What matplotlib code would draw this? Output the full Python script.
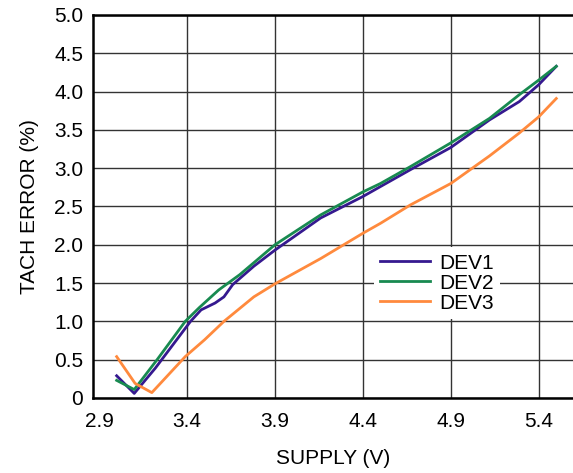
import matplotlib
matplotlib.use("Agg")
import matplotlib.pyplot as plt

# supply voltage (V) vs tach error (%) for three devices
dev1_v = [3.0, 3.1, 3.22, 3.42, 3.48, 3.56, 3.61, 3.66, 3.78, 3.9, 4.16, 4.4, 4.5, 4.67, 4.9, 5.12, 5.29, 5.4, 5.5]
dev1_err = [0.29, 0.06, 0.39, 1.0, 1.15, 1.24, 1.32, 1.48, 1.72, 1.93, 2.35, 2.63, 2.76, 2.98, 3.27, 3.63, 3.87, 4.09, 4.33]

dev2_v = [3.0, 3.1, 3.23, 3.39, 3.47, 3.58, 3.70, 3.9, 4.16, 4.4, 4.5, 4.67, 4.9, 5.12, 5.29, 5.4, 5.5]
dev2_err = [0.23, 0.11, 0.50, 1.0, 1.18, 1.41, 1.61, 2.0, 2.39, 2.69, 2.80, 3.02, 3.33, 3.65, 3.96, 4.15, 4.33]

dev3_v = [3.0, 3.105, 3.2, 3.39, 3.5, 3.61, 3.78, 3.9, 4.16, 4.4, 4.5, 4.67, 4.9, 5.12, 5.29, 5.4, 5.5]
dev3_err = [0.54, 0.19, 0.07, 0.54, 0.76, 1.0, 1.32, 1.49, 1.82, 2.15, 2.28, 2.52, 2.80, 3.16, 3.46, 3.67, 3.91]

series_names = ["DEV1", "DEV2", "DEV3"]
x_ticks = [2.9, 3.4, 3.9, 4.4, 4.9, 5.4]
y_ticks = [0, 0.5, 1.0, 1.5, 2.0, 2.5, 3.0, 3.5, 4.0, 4.5, 5.0]
y_tick_labels = ["0", "0.5", "1.0", "1.5", "2.0", "2.5", "3.0", "3.5", "4.0", "4.5", "5.0"]

colors = ["#35198f", "#188a50", "#ff8a3d"]

plt.rcParams["font.family"] = ["Liberation Sans", "DejaVu Sans"]

fig = plt.figure(figsize=(5.73, 4.73), dpi=100)
ax = fig.add_axes([0.1623, 0.1586, 0.8377, 0.8097])

for v, err, name, c in zip([dev1_v, dev2_v, dev3_v], [dev1_err, dev2_err, dev3_err], series_names, colors):
    ax.plot(v, err, color=c, lw=2.0, label=name, zorder=3)

ax.set_xlim(2.8655, 5.595)
ax.set_ylim(0, 5.0)
ax.set_xticks(x_ticks)
ax.set_xticklabels([f"{t:.1f}" for t in x_ticks])
ax.set_yticks(y_ticks)
ax.set_yticklabels(y_tick_labels)
ax.tick_params(axis="both", length=0, labelsize=15)
ax.tick_params(axis="x", pad=10)
ax.tick_params(axis="y", pad=7)

ax.grid(True, color="#333333", lw=1.0)
ax.get_xgridlines()[0].set_visible(False)
ax.set_axisbelow(True)

for side in ["left", "bottom", "top"]:
    ax.spines[side].set_linewidth(1.8)
    ax.spines[side].set_color("black")
ax.spines["right"].set_visible(False)

ax.set_xlabel("SUPPLY (V)", fontsize=15, labelpad=13)
ax.set_ylabel("TACH ERROR (%)", fontsize=15, labelpad=11)

leg = ax.legend(loc="center left", bbox_to_anchor=(0.585, 0.30), fontsize=15,
                handlelength=2.4, handletextpad=0.45, labelspacing=0.05,
                borderpad=0.3, borderaxespad=0, frameon=True, fancybox=False)
leg.get_frame().set_facecolor("white")
leg.get_frame().set_edgecolor("none")
leg.get_frame().set_alpha(1.0)
leg.set_zorder(5)

fig.savefig("out.png", dpi=100)
